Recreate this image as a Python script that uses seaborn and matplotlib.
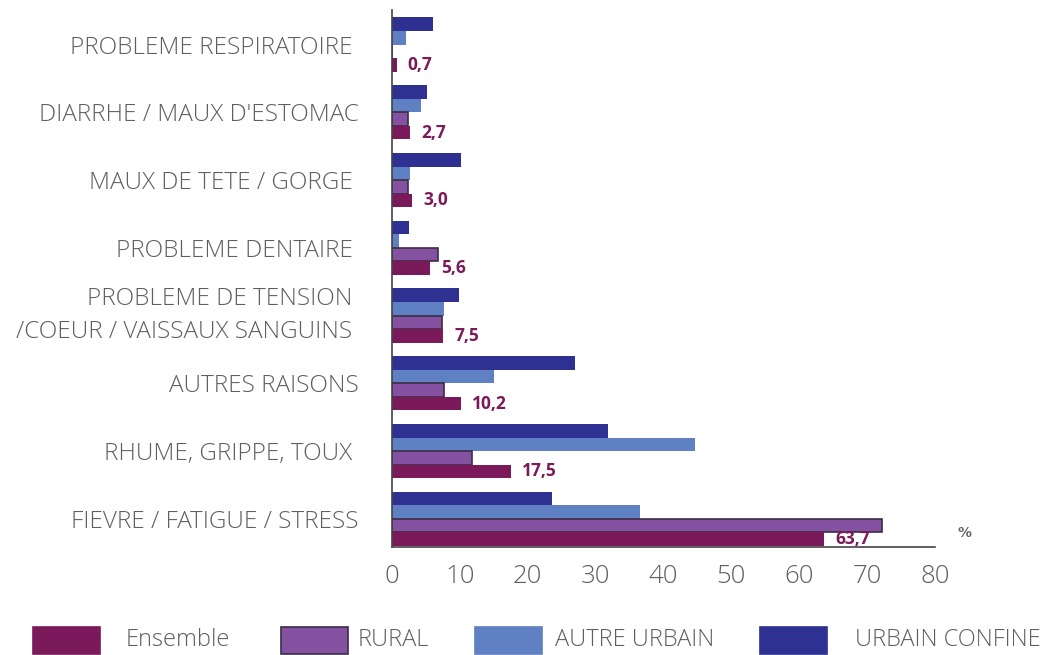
import pandas as pd
import numpy as np
import matplotlib
matplotlib.use('Agg')
import matplotlib.pyplot as plt
from matplotlib.patches import Rectangle
import seaborn as sns

# Raisons de consultation (%)
categories = [
    'PROBLEME RESPIRATOIRE ',
    'DIARRHE / MAUX D\'ESTOMAC',
    'MAUX DE TETE / GORGE ',
    'PROBLEME DENTAIRE ',
    'PROBLEME DE TENSION \n/COEUR / VAISSAUX SANGUINS ',
    'AUTRES RAISONS',
    'RHUME, GRIPPE, TOUX ',
    'FIEVRE / FATIGUE / STRESS',
]
ensemble = [0.7, 2.7, 3.0, 5.6, 7.5, 10.2, 17.5, 63.7]
rural = [0.0, 2.3, 2.4, 6.8, 7.3, 7.7, 11.8, 72.2]
autre_urbain = [2.0, 4.2, 2.6, 1.1, 7.6, 15.1, 44.6, 36.5]
urbain_confine = [6.0, 5.1, 10.1, 2.5, 9.8, 26.9, 31.8, 23.5]

groupes = ['Ensemble', 'RURAL', 'AUTRE URBAIN', 'URBAIN CONFINE']
couleurs = {'Ensemble': '#7b1a5a', 'RURAL': '#8452a0',
            'AUTRE URBAIN': '#5f80c2', 'URBAIN CONFINE': '#2e3192'}
xticks = [0, 10, 20, 30, 40, 50, 60, 70, 80]

series = {'Ensemble': ensemble, 'RURAL': rural,
          'AUTRE URBAIN': autre_urbain, 'URBAIN CONFINE': urbain_confine}
df = pd.concat([pd.DataFrame({'categorie': categories, 'groupe': g, 'valeur': v})
                for g, v in series.items()], ignore_index=True)

sns.set_style('white')
plt.rcParams['font.family'] = ['Open Sans', 'DejaVu Sans']

fig = plt.figure(figsize=(10.48, 6.55), dpi=100)
ax = fig.add_axes([392 / 1048, 1 - 547 / 655, 543 / 1048, 537 / 655])

# ordre vertical dans chaque groupe : urbain confine en haut, ensemble en bas
hue_order = ['URBAIN CONFINE', 'AUTRE URBAIN', 'RURAL', 'Ensemble']
sns.barplot(data=df, x='valeur', y='categorie', hue='groupe', order=categories,
            hue_order=hue_order, palette=couleurs, orient='h', width=0.8,
            legend=False, ax=ax, saturation=1, linewidth=0)

# contour sombre des barres rurales
for p in ax.containers[2]:
    p.set_edgecolor('#3b2d44')
    p.set_linewidth(1.2)

labels = [f'{v:.1f}'.replace('.', ',') for v in ensemble]
ax.bar_label(ax.containers[3], labels=labels, padding=8, color='#7b1a5a',
             fontsize=12.5, fontweight='bold')

ax.set_xlim(0, 80)
ax.set_ylim(7.415, -0.51)
ax.set_xticks(xticks)
ax.set_xlabel('')
ax.set_ylabel('')
ax.tick_params(axis='x', direction='in', length=7, width=1, color='#555555',
               labelsize=18.5, labelcolor='#5f5f5f', pad=12)
ax.tick_params(axis='y', length=0, labelsize=17.5, labelcolor='#5f5f5f', pad=24)
for lab in ax.get_xticklabels() + ax.get_yticklabels():
    lab.set_fontweight('light')
for lab in ax.get_yticklabels():
    lab.set_horizontalalignment('right')
    if '\n' in lab.get_text():
        lab.set_verticalalignment('center')
        lab.set_linespacing(1.5)

sns.despine(ax=ax, top=True, right=True)
for s in ['left', 'bottom']:
    ax.spines[s].set_color('#444444')
    ax.spines[s].set_linewidth(1.2)

fig.text(965 / 1048, 1 - 533 / 655, '%', color='#666666', fontsize=10,
         fontweight='bold', ha='center', va='center', family='DejaVu Sans')

# legende placee a la main
leg_x = [(33, 126), (281, 358), (475, 555), (760, 855)]
for (px, tx), g in zip(leg_x, groupes):
    r = Rectangle((px / 1048, 1 / 655), 67 / 1048, 27 / 655, transform=fig.transFigure,
                  facecolor=couleurs[g],
                  edgecolor='#3b2d44' if g == 'RURAL' else couleurs[g], linewidth=1.2)
    fig.add_artist(r)
    fig.text(tx / 1048, 1 - 640 / 655, g, color='#5f5f5f', fontsize=17,
             fontweight='light', ha='left', va='center')

fig.savefig('out.png', dpi=100)
